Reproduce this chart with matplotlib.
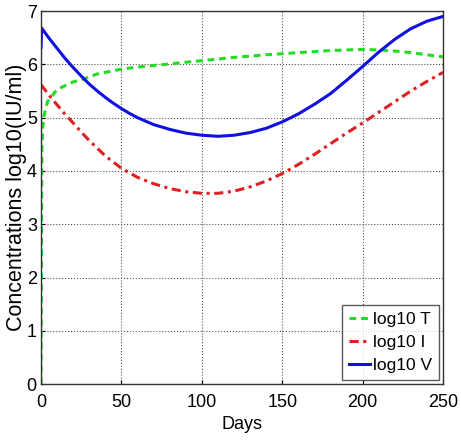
import matplotlib
matplotlib.use("Agg")
import matplotlib.pyplot as plt

plt.rcParams['font.family'] = ['Liberation Sans', 'DejaVu Sans']

# Data
days_T = [0, 0.3, 0.6, 1, 2, 4, 10, 20, 26, 35, 50, 60, 74, 90, 100, 120, 140, 160, 180, 200, 210, 220, 230, 240, 250]
log_T = [0.0, 3.0, 4.5, 4.8, 5.05, 5.3, 5.53, 5.67, 5.72, 5.82, 5.91, 5.95, 5.99, 6.04, 6.07, 6.13, 6.18, 6.22, 6.26, 6.28, 6.27, 6.25, 6.22, 6.18, 6.14]

days_I = [0, 5, 10, 15, 20, 25, 30, 40, 50, 60, 70, 80, 90, 100, 110, 120, 130, 140, 150, 160, 170, 180, 190, 200, 210, 220, 230, 240, 250]
log_I = [5.62, 5.42, 5.24, 5.06, 4.9, 4.73, 4.57, 4.28, 4.05, 3.88, 3.76, 3.67, 3.61, 3.58, 3.58, 3.62, 3.7, 3.81, 3.95, 4.12, 4.31, 4.51, 4.71, 4.9, 5.1, 5.3, 5.5, 5.68, 5.85]

days_V = [0, 0.4, 5, 10, 15, 20, 25, 30, 35, 40, 45, 50, 55, 60, 70, 80, 90, 100, 110, 120, 130, 140, 150, 160, 170, 180, 190, 200, 210, 220, 230, 240, 250]
log_V = [6.32, 6.68, 6.49, 6.3, 6.11, 5.94, 5.78, 5.63, 5.5, 5.38, 5.27, 5.17, 5.08, 5.0, 4.87, 4.78, 4.71, 4.67, 4.65, 4.67, 4.72, 4.8, 4.92, 5.07, 5.25, 5.45, 5.7, 5.96, 6.23, 6.47, 6.67, 6.81, 6.9]

x_ticks = [0, 50, 100, 150, 200, 250]
y_ticks = [0, 1, 2, 3, 4, 5, 6, 7]

fig = plt.figure(figsize=(4.61, 4.43), dpi=100)
ax = fig.add_axes([0.089, 0.133, 0.872, 0.842])

ax.plot(days_T, log_T, color='#22dd22', linestyle=(0, (2.2, 1.6)), linewidth=2.2, label='log10 T')
ax.plot(days_I, log_I, color='#e02020', linestyle=(0, (3, 1.5, 1, 1.5)), linewidth=2.2, label='log10 I')
ax.plot(days_V, log_V, color='#1010e0', linestyle='-', linewidth=2.2, label='log10 V')

ax.set_xlim(0, 250)
ax.set_ylim(0, 7)
ax.set_xticks(x_ticks)
ax.set_yticks(y_ticks)
ax.tick_params(labelsize=13, direction='in', length=3)
ax.tick_params(axis='x', pad=7)
ax.tick_params(axis='y', pad=3)
ax.grid(True, linestyle=':', color='#555555', linewidth=0.8)
for s in ax.spines.values():
    s.set_color('#333333')
    s.set_linewidth(1.0)

ax.set_xlabel('Days', fontsize=13, labelpad=4)
ax.set_ylabel('Concentrations log10(IU/ml)', fontsize=15.5, labelpad=0)

leg = ax.legend(loc='lower right', fontsize=12.5, frameon=True, fancybox=False,
                edgecolor='#333333', handlelength=1.2, handletextpad=0.15,
                borderpad=0.4, labelspacing=0.45, borderaxespad=0.25)
leg.get_frame().set_linewidth(1.0)

fig.savefig('out.png', dpi=100)
